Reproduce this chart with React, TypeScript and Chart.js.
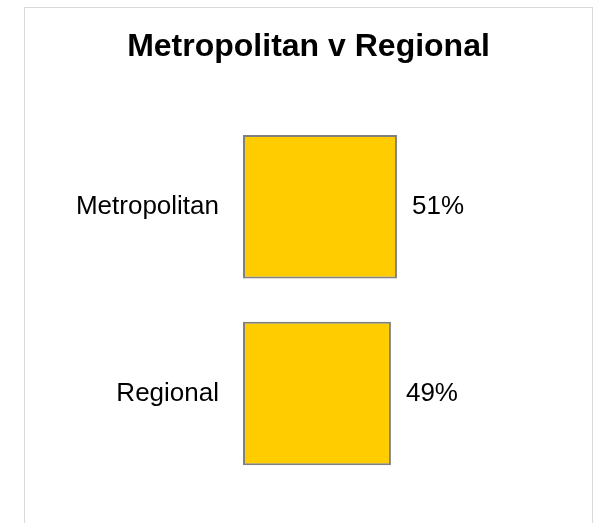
import React, { useEffect, useRef } from "react";
import { Chart, registerables } from "chart.js";

Chart.register(...registerables);

const categories = ["Metropolitan", "Regional"];
const shares = [0.51, 0.49];
const shareLabels = ["51%", "49%"];
const chartTitle = "Metropolitan v Regional";

const FONT = "'Liberation Sans', Arial, sans-serif";

const valueLabelPlugin = {
  id: "valueLabels",
  afterDatasetsDraw(chart: any) {
    const ctx = chart.ctx;
    const meta = chart.getDatasetMeta(0);
    ctx.save();
    ctx.font = `26px ${FONT}`;
    ctx.fillStyle = "#000000";
    ctx.textAlign = "left";
    ctx.textBaseline = "middle";
    meta.data.forEach((bar: any, i: number) => {
      ctx.fillText(shareLabels[i], bar.x + 15, bar.y);
    });
    ctx.restore();
  },
};

export default function App() {
  const canvasRef = useRef<HTMLCanvasElement | null>(null);

  useEffect(() => {
    if (!canvasRef.current) return;
    const chart = new Chart(canvasRef.current, {
      type: "bar",
      data: {
        labels: categories,
        datasets: [
          {
            data: shares,
            backgroundColor: "#FFCC00",
            borderColor: "#808080",
            borderWidth: 2,
            borderSkipped: false,
            categoryPercentage: 1,
            barPercentage: 0.768,
          },
        ],
      },
      options: {
        indexAxis: "y",
        animation: false,
        responsive: false,
        maintainAspectRatio: false,
        layout: { padding: { top: 0, left: 0, right: 0, bottom: 36 } },
        plugins: {
          legend: { display: false },
          tooltip: { enabled: false },
          title: {
            display: true,
            text: chartTitle,
            color: "#000000",
            font: { family: FONT, size: 32, weight: "bold", lineHeight: 1.2 },
            padding: { top: 20, bottom: 47 },
          },
        },
        scales: {
          x: {
            display: false,
            min: 0,
            max: 1.156,
          },
          y: {
            display: true,
            border: { display: false },
            grid: { display: false, drawTicks: false },
            ticks: {
              color: "#000000",
              padding: 24,
              font: { family: FONT, size: 26 },
            },
            afterFit(scale: any) {
              scale.width = 218;
              scale.paddingTop = 0;
              scale.paddingBottom = 0;
            },
          },
        },
      },
      plugins: [valueLabelPlugin],
    } as any);
    return () => chart.destroy();
  }, []);

  return (
    <div style={{ position: "fixed", left: 0, top: 0, width: 600, height: 523, background: "#ffffff", overflow: "hidden" }}>
      <div
        style={{
          position: "absolute",
          left: 24,
          top: 7,
          width: 569,
          height: 540,
          boxSizing: "border-box",
          border: "1px solid #d9d9d9",
          background: "#ffffff",
        }}
      >
        <canvas ref={canvasRef} width={567} height={515} style={{ display: "block", width: 567, height: 515 }} />
      </div>
    </div>
  );
}
